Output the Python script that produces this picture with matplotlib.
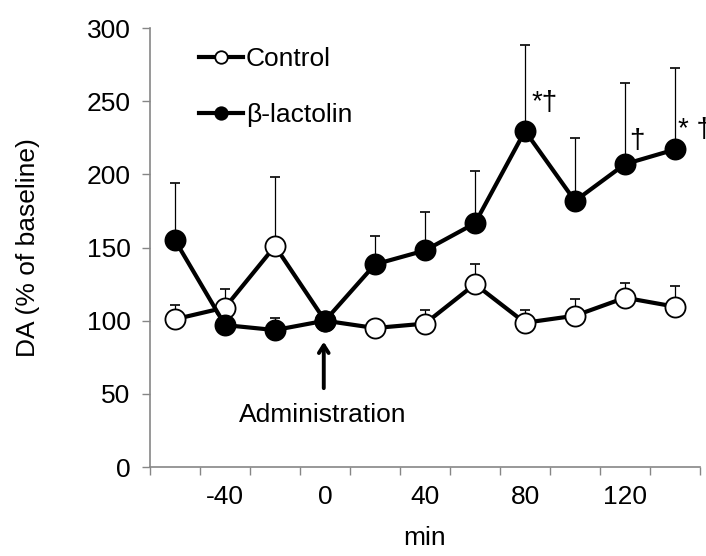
import matplotlib
matplotlib.use('Agg')

import matplotlib.pyplot as plt
from matplotlib.lines import Line2D

plt.rcParams['font.family'] = ['Liberation Sans', 'DejaVu Sans']
plt.rcParams['axes.unicode_minus'] = False

# Data (minutes relative to administration)
minutes = [-60, -40, -20, 0, 20, 40, 60, 80, 100, 120, 140]
control = [101, 109, 151, 100, 95, 98, 125, 98.6, 103.4, 115.7, 109.6]
control_err = [10, 12.5, 47, 0, 0, 9, 14, 9, 11.4, 9.8, 14.4]
lactolin = [155, 97, 93.6, 100, 138.5, 148, 166.6, 229.7, 181.8, 207, 217]
lactolin_err = [39, 6, 8, 0, 19.5, 26.5, 36, 58.8, 43, 55.7, 56]

x_tick_values = [-40, 0, 40, 80, 120]
y_tick_values = [0, 50, 100, 150, 200, 250, 300]

# significance marks: (minute, value, text)
marks = [(82.5, 249, "*\u2020"), (121.5, 223, "\u2020"), (141.2, 230, "* \u2020")]

AXIS_GREY = "#868686"
FS = 19

fig = plt.figure(figsize=(7.06, 5.56), dpi=100)
ax = fig.add_axes([0.2125, 0.160, 0.779, 0.7896])

# Error bars (upper side only)
zeros = [0] * len(minutes)
ax.errorbar(minutes, lactolin, yerr=[zeros, lactolin_err], fmt="none",
            ecolor="black", elinewidth=0.9, capsize=3.3, capthick=1.2, zorder=1)
ax.errorbar(minutes, control, yerr=[zeros, control_err], fmt="none",
            ecolor="black", elinewidth=0.9, capsize=3.3, capthick=1.2, zorder=1)

# Lines with markers
ax.plot(minutes, control, color="black", lw=3, marker="o", ms=14.5,
        mfc="white", mec="black", mew=1.3, zorder=3)
ax.plot(minutes, lactolin, color="black", lw=3, marker="o", ms=14.5,
        mfc="black", mec="black", mew=1.3, zorder=4)

# Significance annotations
for mx, my, txt in marks:
    ax.text(mx, my, txt, fontsize=20, ha="left", va="center", clip_on=False)

# Administration arrow
ax.annotate("", xy=(-0.5, 87.5), xytext=(-0.5, 52),
            arrowprops=dict(arrowstyle="->,head_length=0.55,head_width=0.35",
                            color="black", lw=2.8))
ax.text(-1, 35.5, "Administration", fontsize=FS, ha="center", va="center")

ax.set_xlim(-70, 150)
ax.set_ylim(0, 300)

ax.set_xticks(x_tick_values)
ax.set_xticks(list(range(-70, 151, 20)), minor=True)
ax.tick_params(axis="x", which="major", length=0, pad=13, labelsize=FS)
ax.tick_params(axis="x", which="minor", length=6, direction="out",
               color=AXIS_GREY, width=1)
ax.set_yticks(y_tick_values)
ax.tick_params(axis="y", which="major", length=6, direction="out",
               color=AXIS_GREY, width=1, pad=8, labelsize=FS)

for side in ("top", "right"):
    ax.spines[side].set_visible(False)
for side in ("left", "bottom"):
    ax.spines[side].set_color(AXIS_GREY)
    ax.spines[side].set_linewidth(1.2)

ax.set_xlabel("min", fontsize=FS)
ax.xaxis.set_label_coords(0.5, -0.162)
ax.xaxis.label.set_va("center")
ax.set_ylabel("DA (% of baseline)", fontsize=FS)
ax.yaxis.set_label_coords(-0.222, 0.5)
ax.yaxis.label.set_va("center")

leg_handles = [
    Line2D([], [], color="black", lw=3, marker="o", ms=9, mfc="white",
           mec="black", mew=1.3),
    Line2D([], [], color="black", lw=3, marker="o", ms=9, mfc="black",
           mec="black", mew=1.3),
]
ax.legend(leg_handles, ["Control", "\u03b2-lactolin"], loc="upper left",
          bbox_to_anchor=(0.045, 1.01), frameon=False, fontsize=FS,
          handlelength=1.7, handletextpad=0.1, labelspacing=1.2)

fig.savefig("out.png", dpi=100)
plt.close(fig)
